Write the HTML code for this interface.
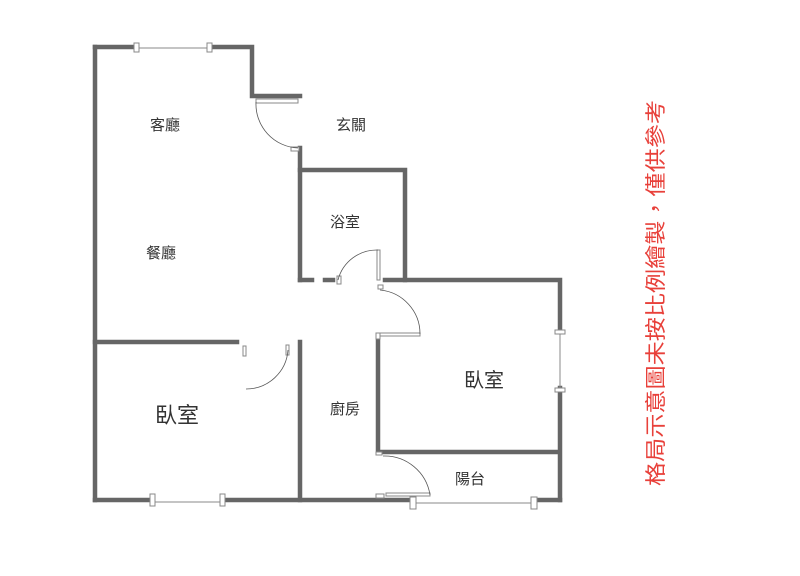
<!DOCTYPE html>
<html><head><meta charset="utf-8"><style>
body{margin:0;background:#fff;width:800px;height:576px;overflow:hidden}
.t{font-family:"Liberation Sans","Noto Sans CJK TC",sans-serif;fill:#333}
</style></head><body>
<svg width="800" height="576" style="position:absolute;left:0;top:0">
<g stroke="#666" stroke-width="4.5" fill="none" stroke-linecap="square">
<path d="M95 47V500"/>
<path d="M95 47H135M212 47H252V96H300"/>
<path d="M300 148V280"/>
<path d="M300 170H405V280"/>
<path d="M300 280H312M325 280H333M385 280H560V332M560 388V500"/>
<path d="M378 340V452H557"/>
<path d="M95 342H237"/>
<path d="M300 342V500"/>
<path d="M95 500H150M224 500H410M537 500H560"/>
</g>
<g stroke="#888" stroke-width="1" fill="#fff">
<rect x="134" y="43" width="5" height="9"/><rect x="207" y="43" width="5" height="9"/>
<line x1="139" y1="48" x2="207" y2="48"/>
<rect x="150" y="494" width="5" height="12"/><rect x="220" y="494" width="5" height="12"/>
<line x1="155" y1="502" x2="220" y2="502"/>
<rect x="410" y="497" width="6" height="12"/><rect x="531" y="497" width="6" height="12"/>
<line x1="416" y1="503" x2="531" y2="503"/>
<rect x="555" y="330" width="10" height="4"/><rect x="555" y="388" width="10" height="4"/>
<line x1="560" y1="334" x2="560" y2="388"/>
<rect x="256" y="99" width="42" height="4"/>
<rect x="291" y="147" width="8" height="4"/>
<rect x="243" y="346" width="3" height="10"/><rect x="286" y="345" width="3" height="10"/>
<rect x="377" y="250" width="3" height="30"/><rect x="378" y="285" width="5" height="4"/>
<rect x="376" y="333" width="4" height="6"/><rect x="380" y="333" width="40" height="3"/>
<rect x="376" y="452" width="6" height="3"/><rect x="386" y="493" width="44" height="3"/><rect x="376" y="494" width="8" height="4"/>
<rect x="337" y="276" width="4" height="8"/>
</g>
<g stroke="#555" stroke-width="0.8" fill="none">
<path d="M256 102A44 44 0 0 0 298 148"/>
<path d="M246 389A42 42 0 0 0 288 350"/>
<path d="M338 280A40 40 0 0 1 378 250"/>
<path d="M380 290A44 44 0 0 1 420 334"/>
<path d="M383 456A46 46 0 0 1 430 495"/>
</g>
<text class="t" x="150" y="130" font-size="15">客廳</text>
<text class="t" x="336" y="130" font-size="15">玄關</text>
<text class="t" x="330" y="227" font-size="15">浴室</text>
<text class="t" x="146" y="258" font-size="15">餐廳</text>
<text class="t" x="330" y="414" font-size="15">廚房</text>
<text class="t" x="455" y="484" font-size="15">陽台</text>
<text class="t" x="155" y="423" font-size="22">臥室</text>
<text class="t" x="464" y="387" font-size="20">臥室</text>
<text x="0" y="0" transform="translate(663,486) rotate(-90)" font-size="21" fill="#e8403a" textLength="386" lengthAdjust="spacingAndGlyphs" style="font-family:'Liberation Sans','Noto Sans CJK TC',sans-serif">格局示意圖未按比例繪製，僅供參考</text>
</svg>
</body></html>
